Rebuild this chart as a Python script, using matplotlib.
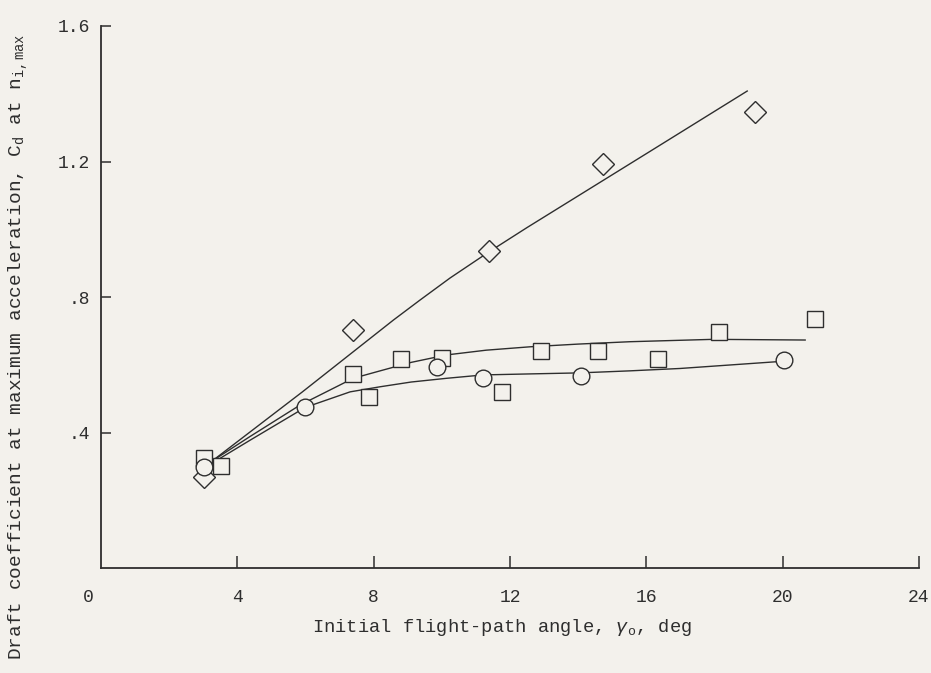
import numpy as np
import matplotlib
matplotlib.use('Agg')
import matplotlib.pyplot as plt

plt.rcParams['font.family'] = ['Liberation Mono', 'DejaVu Sans Mono']
plt.rcParams['mathtext.fontset'] = 'custom'
plt.rcParams['mathtext.rm'] = 'Liberation Mono'
plt.rcParams['mathtext.it'] = 'Liberation Mono:italic'

# test points
diamond_x = [3.02, 7.39, 11.38, 14.73, 19.19]
diamond_y = [0.27, 0.703, 0.935, 1.193, 1.346]

square_x = [3.02, 3.52, 7.39, 7.86, 8.80, 10.01, 11.77, 12.91, 14.58, 16.34, 18.13, 20.95]
square_y = [0.325, 0.30, 0.573, 0.505, 0.617, 0.62, 0.52, 0.64, 0.64, 0.617, 0.696, 0.735]

circle_x = [3.02, 5.99, 9.86, 11.21, 14.08, 20.04]
circle_y = [0.298, 0.476, 0.593, 0.56, 0.567, 0.613]

# faired curves
diamond_fair_x = [3.25, 5.91, 8.58, 9.36, 10.24, 11.38, 12.5, 14.73, 16.11, 18.96]
diamond_fair_y = [0.315, 0.52, 0.732, 0.791, 0.856, 0.933, 1.005, 1.144, 1.230, 1.408]

square_fair_x = [3.25, 4.37, 5.84, 7.40, 8.19, 9.1, 10.14, 11.3, 12.59, 14.0, 15.52, 17.96, 20.66]
square_fair_y = [0.315, 0.388, 0.481, 0.56, 0.582, 0.607, 0.629, 0.643, 0.653, 0.661, 0.668, 0.675, 0.673]

circle_fair_x = [3.3, 4.37, 5.99, 7.31, 8.19, 9.1, 10.14, 11.22, 12.6, 14.05, 15.52, 16.99, 19.83]
circle_fair_y = [0.312, 0.377, 0.474, 0.52, 0.535, 0.549, 0.56, 0.570, 0.573, 0.576, 0.582, 0.589, 0.609]

xticks = [4, 8, 12, 16, 20, 24]
yticks = [0.4, 0.8, 1.2, 1.6]
ytick_labels = ['.4', '.8', '1.2', '1.6']

paper = '#f3f1ec'
ink = '#2e2e2e'

fig = plt.figure(figsize=(9.31, 6.73), dpi=100)
fig.patch.set_facecolor(paper)
ax = fig.add_axes([101 / 931, 1 - 568 / 673, 818 / 931, 542 / 673])
ax.set_facecolor(paper)

ax.plot(diamond_fair_x, diamond_fair_y, color=ink, lw=1.0)
ax.plot(square_fair_x, square_fair_y, color=ink, lw=1.0)
ax.plot(circle_fair_x, circle_fair_y, color=ink, lw=1.0)

ax.plot(diamond_x, diamond_y, 'D', ms=11, mfc=paper, mec=ink, mew=1.0, ls='none')
ax.plot(square_x, square_y, 's', ms=11, mfc=paper, mec=ink, mew=1.0, ls='none')
ax.plot(circle_x, circle_y, 'o', ms=12, mfc=paper, mec=ink, mew=1.0, ls='none')

ax.set_xlim(0, 24)
ax.set_ylim(0, 1.6)
ax.spines['top'].set_visible(False)
ax.spines['right'].set_visible(False)
for s in ['left', 'bottom']:
    ax.spines[s].set_color(ink)
    ax.spines[s].set_linewidth(1.3)

ax.set_xticks(xticks)
ax.set_xticklabels([str(t) for t in xticks])
ax.set_yticks(yticks)
ax.set_yticklabels(ytick_labels)
ax.tick_params(axis='x', direction='in', length=9, width=1.1, color=ink, pad=15, labelsize=13, labelcolor=ink)
ax.tick_params(axis='y', direction='in', length=7, width=1.1, color=ink, pad=8, labelsize=13, labelcolor=ink)

ax.annotate('0', xy=(0, 0), xytext=(-9.5, -21.5), textcoords='offset points',
            ha='center', va='center', fontsize=13, color=ink, annotation_clip=False)

fig.text(502 / 931, 1 - 628 / 673, r'Initial flight-path angle, $\gamma_\mathrm{o}$, deg',
         ha='center', va='center', fontsize=13.5, color=ink)
fig.text(18 / 931, 1 - 347 / 673,
         r'Draft coefficient at maximum acceleration, C$_\mathrm{d}$ at n$_\mathrm{i,max}$',
         ha='center', va='center', rotation=90, fontsize=14, color=ink)

fig.savefig('out.png', dpi=100, facecolor=paper)
